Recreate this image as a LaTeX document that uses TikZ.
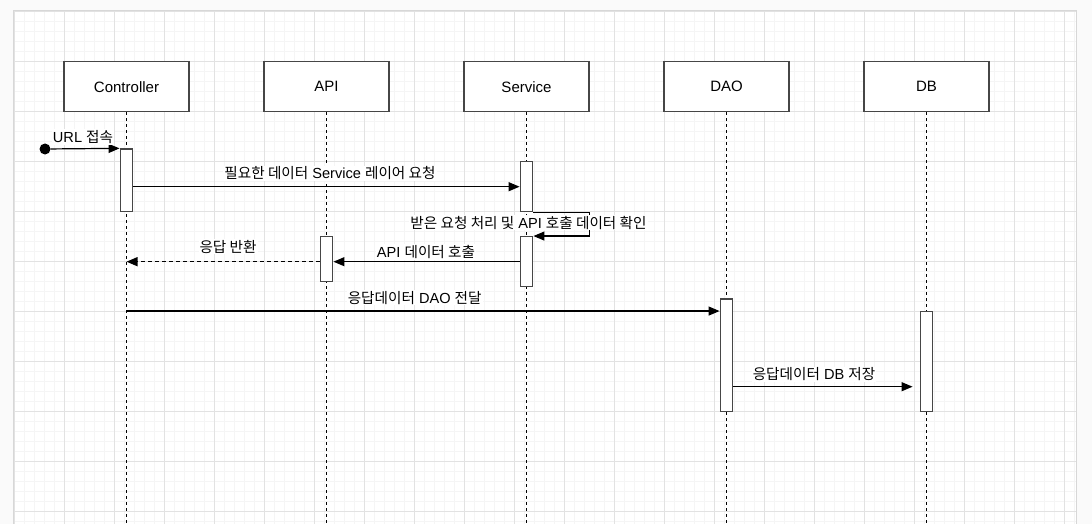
\documentclass[tikz,border=0pt]{standalone}
\usepackage{fontspec}
\setmainfont{Liberation Sans}
\newfontfamily\krfont{Noto Sans CJK KR}
\newcommand{\hk}[1]{{\krfont #1}}
\usetikzlibrary{arrows.meta}
\definecolor{boxgray}{RGB}{70,70,70}
\definecolor{minorgrid}{RGB}{245,245,245}
\definecolor{majorgrid}{RGB}{226,226,226}
\definecolor{outerbg}{RGB}{250,250,250}
\definecolor{canvasedge}{RGB}{215,215,215}
\begin{document}
\begin{tikzpicture}[x=1pt,y=-1pt,
  actor/.style={draw=boxgray, fill=white, line width=1.3pt, minimum width=125pt, minimum height=50pt, inner sep=0pt, font=\fontsize{15}{18}\selectfont},
  bar/.style={draw=boxgray, fill=white, line width=1.3pt, inner sep=0pt, minimum width=12.6pt},
  life/.style={line width=1.2pt, dash pattern=on 3pt off 3pt},
  msg/.style={line width=1.2pt, -{Triangle[length=11pt,width=9pt]}},
  ret/.style={msg, dash pattern=on 4pt off 3pt},
  lbl/.style={fill=white, inner sep=1pt, font=\fontsize{14.6}{17}\selectfont}]
\useasboundingbox (0,0) rectangle (1092,524);
\fill[outerbg] (0,0) rectangle (1092,524);
\fill[white] (13.5,11) rectangle (1076.5,530);
\begin{scope}
\clip (13.5,11) rectangle (1076.5,530);
\foreach \i in {0,...,106} \draw[minorgrid, line width=1pt] ({14+10*\i},11) -- ({14+10*\i},530);
\foreach \i in {0,...,52} \draw[minorgrid, line width=1pt] (13.5,{11.7+10*\i}) -- (1076.5,{11.7+10*\i});
\foreach \i in {0,...,21} \draw[majorgrid, line width=1pt] ({14+50*\i},11) -- ({14+50*\i},530);
\foreach \i in {0,...,10} \draw[majorgrid, line width=1pt] (13.5,{11.7+50*\i}) -- (1076.5,{11.7+50*\i});
\end{scope}
\draw[canvasedge, line width=1pt] (13.5,530) -- (13.5,11) -- (1076.5,11) -- (1076.5,530);

% actors
\node[actor] (ctl) at (126.5,86.7) {Controller};
\node[actor] (api) at (326.5,86.7) {API};
\node[actor] (svc) at (526.5,86.7) {Service};
\node[actor] (dao) at (726.5,86.7) {DAO};
\node[actor] (db)  at (926.5,86.7) {DB};

% lifelines
\foreach \n in {ctl,api,svc,dao,db} \draw[life] (\n.south) -- (\n.south |- 0,524);

% activation bars
\node[bar, minimum height=62.7pt] (cb) at (126.5,180.35) {};
\node[bar, minimum height=50pt] (sb1) at (526.5,186.7) {};
\node[bar, minimum height=50pt] (sb2) at (526.5,261.7) {};
\node[bar, minimum height=45pt] (ab) at (326.5,259.2) {};
\node[bar, minimum height=112.7pt] (ob) at (726.5,355.35) {};
\node[bar, minimum height=100pt] (bb) at (926.5,361.7) {};

% start dot
\node[circle, fill=black, inner sep=0pt, minimum size=11pt] (start) at (45,149) {};

% messages
\draw[msg] (start) -- (cb.north west);
\draw[msg] (cb.east |- sb1.west) -- (sb1.west);
\draw[msg] (sb1.south east) -- ++(56,0) |- (sb2.north east);
\draw[msg] (sb2.west) -- (ab.east |- sb2.west);
\draw[ret] (ab.west |- sb2.west) -- (ctl.south |- sb2.west);
\draw[msg] (ctl.south |- bb.north) -- (ob.west |- bb.north);
\draw[msg, shorten >=7pt] (ob.east |- 0,386.7) -- (bb.west |- 0,386.7);

% labels
\node[lbl] (l1) at (83,137) {URL \hk{접속}};
\node[lbl] (l2) at (330,173.3) {\hk{필요한 데이터} Service \hk{레이어 요청}};
\node[lbl] (l3) at (528.5,222.7) {\hk{받은 요청 처리 및} API \hk{호출 데이터 확인}};
\node[lbl] (l4) at (426,252) {API \hk{데이터 호출}};
\node[lbl] (l5) at (228,246.7) {\hk{응답 반환}};
\node[lbl] (l6) at (414.7,297.7) {\hk{응답데이터} DAO \hk{전달}};
\node[lbl] (l7) at (814,374.3) {\hk{응답데이터} DB \hk{저장}};
\end{tikzpicture}
\end{document}
